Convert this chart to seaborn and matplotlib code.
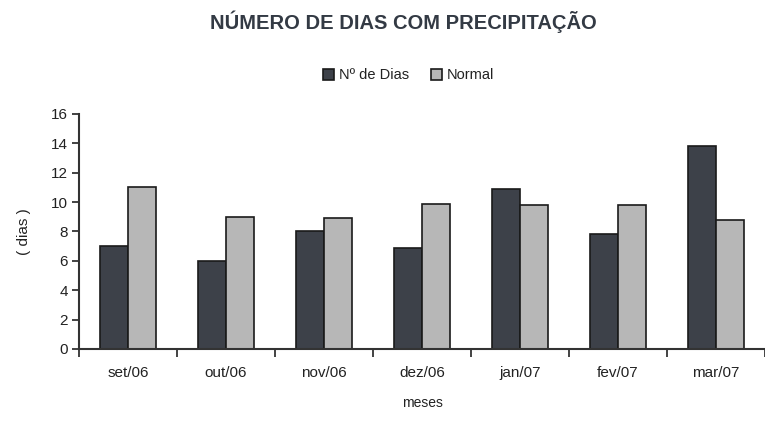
import pandas as pd
import matplotlib
matplotlib.use("Agg")
import matplotlib.pyplot as plt
import seaborn as sns

meses = ["set/06", "out/06", "nov/06", "dez/06", "jan/07", "fev/07", "mar/07"]
n_dias = [7, 6, 8, 6.9, 10.9, 7.8, 13.8]
normal = [11, 9, 8.9, 9.9, 9.8, 9.8, 8.8]
series = ["Nº de Dias", "Normal"]

df = pd.DataFrame({
    "mes": meses * 2,
    "dias": n_dias + normal,
    "serie": [series[0]] * len(meses) + [series[1]] * len(meses),
})

sns.set_style("white")
plt.rcParams["font.family"] = ["Liberation Sans", "DejaVu Sans"]

fig = plt.figure(figsize=(7.65, 4.22), dpi=100)
ax = fig.add_axes([0.1033, 0.173, 0.8967, 0.557])

sns.barplot(data=df, x="mes", y="dias", hue="serie",
            palette=["#3d4149", "#b7b7b7"], edgecolor="#1a1a1a",
            linewidth=1.2, width=0.57, saturation=1, ax=ax)

ax.set_ylim(0, 16)
ax.set_xlim(-0.5, len(meses) - 0.5)
ax.set_yticks(range(0, 17, 2))
ax.tick_params(axis="y", labelsize=11, colors="#222222", length=5,
               width=1.2, direction="out", left=True, pad=3)
ax.tick_params(axis="x", labelsize=11, colors="#222222", length=0, pad=12)
# ticks between the month groups
ax.set_xticks([i - 0.5 for i in range(len(meses) + 1)], minor=True)
ax.tick_params(axis="x", which="minor", bottom=True, length=6, width=1.2,
               direction="out", color="#222222")

for s in ["top", "right"]:
    ax.spines[s].set_visible(False)
for s in ["left", "bottom"]:
    ax.spines[s].set_color("#333333")
    ax.spines[s].set_linewidth(1.5)

ax.set_ylabel("( dias )", fontsize=11, color="#222222", labelpad=14)
ax.set_xlabel("meses", fontsize=10, color="#222222", labelpad=12)

fig.suptitle("NÚMERO DE DIAS COM PRECIPITAÇÃO", x=0.527, y=0.975,
             fontsize=14.5, fontweight="bold", color="#333a44")

leg = ax.legend(loc="center", bbox_to_anchor=(0.48, 1.165), ncol=2,
                frameon=False, fontsize=10.5, handlelength=0.8,
                handleheight=0.8, handletextpad=0.3, columnspacing=1.5)
for t in leg.get_texts():
    t.set_color("#222222")

fig.savefig("out.png", dpi=100)
